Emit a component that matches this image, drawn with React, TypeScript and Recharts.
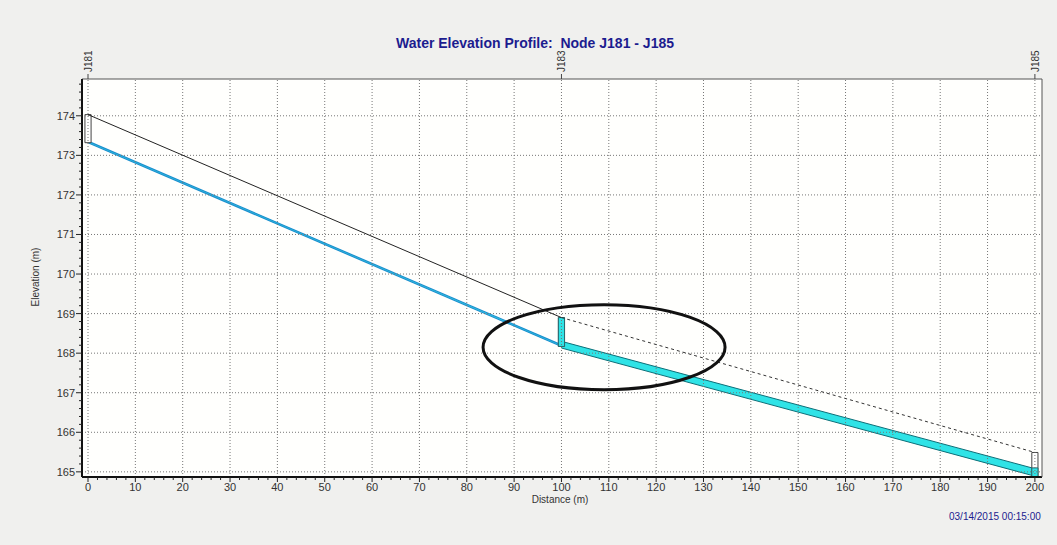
import React from 'react';
import {
  ComposedChart, Line, Area, XAxis, YAxis, CartesianGrid,
  ReferenceLine, ReferenceArea, ReferenceDot,
} from 'recharts';

// profile nodes
const nodeNames = ['J181', 'J183', 'J185'];
const nodeDist = [0, 100, 200];
const nodeInvert = [173.32, 168.17, 164.88];
const nodeRim = [174.03, 168.9, 165.49];
const nodeWater = [173.32, 168.9, 165.1];

// conduit invert / water surface at each end
const pipe1Dist = [0, 100];
const pipe1Invert = [173.32, 168.17];
const pipe1Water = [173.36, 168.21];
const pipe2Dist = [100, 200];
const pipe2Invert = [168.13, 164.89];
const pipe2Water = [168.3, 165.08];

// conduit crown (solid) and ground line (dashed)
const crownDist = [0, 100];
const crownElev = [174.03, 168.9];
const groundDist = [100, 200];
const groundElev = [168.9, 165.49];

const xMajor = [0, 10, 20, 30, 40, 50, 60, 70, 80, 90, 100, 110, 120, 130, 140, 150, 160, 170, 180, 190, 200];
const yMajor = [165, 166, 167, 168, 169, 170, 171, 172, 173, 174];

const xMinor: number[] = [];
for (let i = 0; i <= 100; i++) xMinor.push(i * 2);
const yMinor: number[] = [];
for (let i = 0; i <= 49; i++) yMinor.push(Math.round((165 + i * 0.2) * 10) / 10);

const X_DOMAIN = [-1.27, 201.5];
const Y_DOMAIN = [164.87, 174.93];

const CYAN = '#2fe3e6';
const NAVY = '#1c1c8f';
const FONT = 'Liberation Sans, Arial, sans-serif';

const rows: any[] = [];
[0, 100, 200].forEach((d) => {
  const r: any = { d };
  const a = pipe1Dist.indexOf(d);
  if (a >= 0) r.p1 = [pipe1Invert[a], pipe1Water[a]];
  const b = pipe2Dist.indexOf(d);
  if (b >= 0) r.p2 = [pipe2Invert[b], pipe2Water[b]];
  const c = crownDist.indexOf(d);
  if (c >= 0) r.crown = crownElev[c];
  const g = groundDist.indexOf(d);
  if (g >= 0) r.ground = groundElev[g];
  rows.push(r);
});

const isInt = (v: number) => Math.abs(v - Math.round(v)) < 1e-6;

const YTick = (props: any) => {
  const { x, y, payload } = props;
  const v = payload.value;
  const major = isInt(v);
  return (
    <g>
      <line x1={x - (major ? 6 : 3)} x2={x} y1={y} y2={y} stroke="#222" />
      {major && (
        <text x={x - 7} y={y} dy={4} textAnchor="end" fontSize={11} fill="#333" fontFamily={FONT}>
          {Math.round(v)}
        </text>
      )}
    </g>
  );
};

const XTick = (props: any) => {
  const { x, y, payload } = props;
  const v = payload.value;
  const major = v % 10 === 0;
  return (
    <g>
      <line x1={x} x2={x} y1={y} y2={y + (major ? 5 : 3)} stroke="#222" />
      {major && (
        <text x={x} y={y + 14} textAnchor="middle" fontSize={11} fill="#333" fontFamily={FONT}>
          {v}
        </text>
      )}
    </g>
  );
};

const TopTick = (props: any) => {
  const { x, y, payload } = props;
  const name = nodeNames[nodeDist.indexOf(payload.value)];
  return (
    <g>
      <line x1={x} x2={x} y1={y} y2={y - 5} stroke="#444" />
      <text
        x={x}
        y={y - 7}
        transform={`rotate(-90 ${x} ${y - 7})`}
        dy={4}
        textAnchor="start"
        fontSize={10}
        fill="#333"
        fontFamily={FONT}
      >
        {name}
      </text>
    </g>
  );
};

export default function App() {
  return (
    <div style={{ position: 'absolute', left: 0, top: 0, width: 1057, height: 545, background: '#f0f0ee', fontFamily: FONT }}>
      <div style={{ position: 'absolute', left: 0, width: 1070, top: 35, textAlign: 'center', fontSize: 14, fontWeight: 'bold', color: NAVY }}>
        Water Elevation Profile:&nbsp; Node J181 - J185
      </div>
      <div
        style={{
          position: 'absolute', left: 35, top: 277, transform: 'translate(-50%, -50%) rotate(-90deg)',
          fontSize: 10, color: '#333', whiteSpace: 'nowrap',
        }}
      >
        Elevation (m)
      </div>
      <div style={{ position: 'absolute', left: 0, width: 1120, top: 494, textAlign: 'center', fontSize: 10, color: '#333' }}>
        Distance (m)
      </div>
      <div style={{ position: 'absolute', left: 949, top: 511, fontSize: 10, color: NAVY }}>
        03/14/2015 00:15:00
      </div>
      <ComposedChart
        width={1057}
        height={545}
        data={rows}
        margin={{ top: 34, left: 22, right: 14, bottom: 38 }}
        style={{ position: 'absolute', left: 0, top: 0 }}
      >
        <CartesianGrid fill="#fffffd" horizontal={false} vertical={false} />
        <XAxis
          dataKey="d"
          type="number"
          domain={X_DOMAIN}
          allowDataOverflow
          ticks={xMinor}
          interval={0}
          tick={<XTick />}
          tickLine={false}
          tickSize={0}
          tickMargin={0}
          height={30}
          axisLine={{ stroke: '#111', strokeWidth: 2 }}
        />
        <XAxis
          xAxisId="top"
          dataKey="d"
          type="number"
          orientation="top"
          domain={X_DOMAIN}
          allowDataOverflow
          ticks={nodeDist}
          interval={0}
          tick={<TopTick />}
          tickLine={false}
          tickSize={0}
          tickMargin={0}
          height={45}
          axisLine={{ stroke: '#555' }}
        />
        <YAxis
          type="number"
          domain={Y_DOMAIN}
          allowDataOverflow
          ticks={yMinor}
          interval={0}
          tick={<YTick />}
          tickLine={false}
          tickSize={0}
          tickMargin={0}
          width={60}
          axisLine={{ stroke: '#111', strokeWidth: 2 }}
        />
        <YAxis
          yAxisId="right"
          orientation="right"
          type="number"
          domain={Y_DOMAIN}
          allowDataOverflow
          tick={false}
          tickLine={false}
          width={1}
          axisLine={{ stroke: '#555' }}
        />

        {xMajor.map((v) => (
          <ReferenceLine key={`gx${v}`} x={v} stroke="#777" strokeDasharray="1 2" />
        ))}
        {yMajor.map((v) => (
          <ReferenceLine key={`gy${v}`} y={v} stroke="#777" strokeDasharray="1 2" />
        ))}

        <Line dataKey="crown" stroke="#222" strokeWidth={1} dot={false} isAnimationActive={false} />
        <Line dataKey="ground" stroke="#333" strokeWidth={1} strokeDasharray="3 3" dot={false} isAnimationActive={false} />
        <Area
          dataKey="p1"
          type="linear"
          stroke="#1f8fcf"
          strokeWidth={1.2}
          fill={CYAN}
          fillOpacity={1}
          dot={false}
          activeDot={false}
          isAnimationActive={false}
        />
        <Area
          dataKey="p2"
          type="linear"
          stroke="#0d6f78"
          strokeWidth={1}
          fill={CYAN}
          fillOpacity={1}
          dot={false}
          activeDot={false}
          isAnimationActive={false}
        />

        {nodeDist.map((d, i) => (
          <ReferenceArea
            key={`n${i}`}
            x1={d - 0.65}
            x2={d + 0.65}
            y1={nodeInvert[i]}
            y2={nodeRim[i]}
            fill="#ffffff"
            fillOpacity={1}
            stroke="#444"
            strokeWidth={1}
          />
        ))}
        {nodeDist.map((d, i) =>
          nodeWater[i] > nodeInvert[i] ? (
            <ReferenceArea
              key={`w${i}`}
              x1={d - 0.65}
              x2={d + 0.65}
              y1={nodeInvert[i]}
              y2={nodeWater[i]}
              fill={CYAN}
              fillOpacity={1}
              stroke="#2a6a70"
              strokeWidth={1}
            />
          ) : null
        )}

        <ReferenceDot
          x={109}
          y={168.15}
          r={1}
          shape={(p: any) => (
            <ellipse cx={p.cx} cy={p.cy} rx={121} ry={42.5} fill="none" stroke="#111" strokeWidth={3} />
          )}
        />
      </ComposedChart>
    </div>
  );
}
